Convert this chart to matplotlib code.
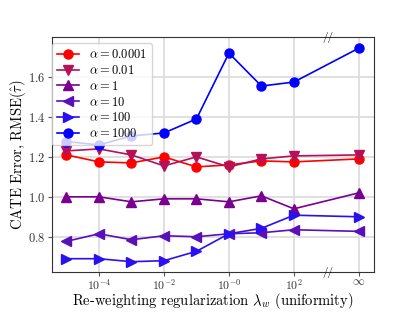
import numpy as np
import matplotlib
matplotlib.use('Agg')
import matplotlib.pyplot as plt
import matplotlib.transforms as mtransforms

plt.rcParams['font.family'] = 'serif'
plt.rcParams['font.serif'] = ['cmr10', 'DejaVu Serif']
plt.rcParams['mathtext.fontset'] = 'cm'
plt.rcParams['axes.unicode_minus'] = False
plt.rcParams['axes.formatter.use_mathtext'] = True

# lambda_w values; the last one stands for infinity, drawn at 1e4
lam = [1e-5, 1e-4, 1e-3, 1e-2, 1e-1, 1e0, 1e1, 1e2, 1e4]
tick_pos = [1e-4, 1e-2, 1e0, 1e2, 1e4]
tick_labels = [r'$10^{-4}$', r'$10^{-2}$', r'$10^{-0}$', r'$10^{2}$', r'$\infty$']

alphas = ['0.0001', '0.01', '1', '10', '100', '1000']
rmse_a0001 = [1.21, 1.175, 1.17, 1.20, 1.15, 1.16, 1.18, 1.175, 1.19]
rmse_a001 = [1.23, 1.24, 1.21, 1.155, 1.20, 1.15, 1.19, 1.205, 1.21]
rmse_a1 = [1.00, 1.00, 0.975, 0.99, 0.99, 0.975, 1.005, 0.94, 1.02]
rmse_a10 = [0.777, 0.815, 0.785, 0.805, 0.80, 0.815, 0.82, 0.835, 0.827]
rmse_a100 = [0.69, 0.69, 0.675, 0.68, 0.727, 0.815, 0.842, 0.908, 0.90]
rmse_a1000 = [1.277, 1.26, 1.305, 1.32, 1.39, 1.72, 1.555, 1.575, 1.745]

series = [rmse_a0001, rmse_a001, rmse_a1, rmse_a10, rmse_a100, rmse_a1000]
markers = ['o', 'v', '^', '<', '>', 'o']
colors = ['#ff0000', '#b5105a', '#7a0090', '#5a10b8', '#2a10f0', '#0000ff']

fig = plt.figure(figsize=(4.15, 3.12), dpi=100)
ax = fig.add_axes([0.125, 0.127, 0.775, 0.753])

for ys, m, c, a in zip(series, markers, colors, alphas):
    ax.plot(lam, ys, marker=m, color=c, ms=6.5, lw=1.2, label=r'$\alpha=$' + a)

ax.set_xscale('log')
ax.set_xticks(tick_pos)
ax.set_xticklabels(tick_labels)
ax.xaxis.set_minor_locator(matplotlib.ticker.NullLocator())
ax.set_yticks([0.8, 1.0, 1.2, 1.4, 1.6])
ax.tick_params(labelsize=9, length=3, color='#555555', labelcolor='#333333')
ax.tick_params(axis='x', pad=0.5, labelsize=8.5)
ax.tick_params(axis='y', pad=1.5)
ax.grid(True, color='#dddddd', lw=1.3)
ax.set_axisbelow(True)
for s in ax.spines.values():
    s.set_color('#333333')

ax.set_xlabel(r'Re-weighting regularization $\lambda_w$ (uniformity)', fontsize=10.5, labelpad=-0.5)
ax.set_ylabel(r'CATE Error, RMSE($\hat{\tau}$)', fontsize=10.5, labelpad=0)

ax.legend(loc='upper left', fontsize=9, labelspacing=0.22, handlelength=1.8,
          bbox_to_anchor=(0.0, 0.975), borderaxespad=0)

# axis break marks between 10^2 and infinity
trans = mtransforms.blended_transform_factory(ax.transData, ax.transAxes)
for yb in [0, 1]:
    ax.text(1.1e3, yb, '//', transform=trans, ha='center', va='center',
            fontsize=8, clip_on=False)

fig.savefig('out.png', dpi=100)
